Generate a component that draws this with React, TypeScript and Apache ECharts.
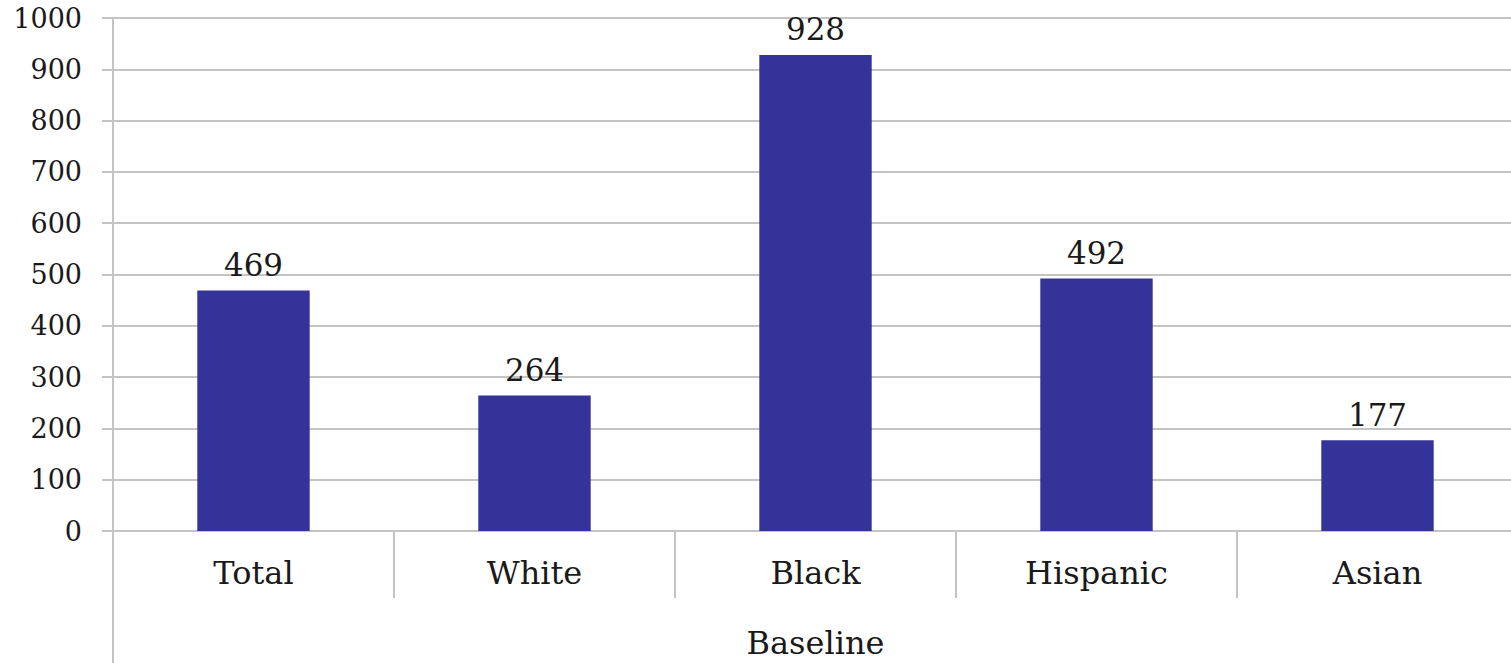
import React, { useEffect, useRef } from "react";
import * as echarts from "echarts";

const categories = ["Total", "White", "Black", "Hispanic", "Asian"];
const values = [469, 264, 928, 492, 177];
const axisName = "Baseline";
const yMin = 0;
const yMax = 1000;
const yInterval = 100;

const FONT = "'DejaVu Serif', 'Liberation Serif', serif";
const GRID_COLOR = "#c4c4c4";

export default function App() {
  const ref = useRef<HTMLDivElement>(null);
  useEffect(() => {
    if (!ref.current) return;
    const chart = echarts.init(ref.current, null, { renderer: "svg" });
    chart.setOption({
      animation: false,
      backgroundColor: "#ffffff",
      grid: {
        left: 113,
        top: 18,
        bottom: 132,
        width: 1405,
        containLabel: false,
        outerBoundsMode: "none",
      },
      xAxis: {
        type: "category",
        data: categories,
        name: axisName,
        nameLocation: "middle",
        nameGap: 96,
        nameTextStyle: { fontFamily: FONT, fontSize: 32, color: "#1a1a1a" },
        axisLine: { show: true, lineStyle: { color: GRID_COLOR, width: 2 } },
        axisTick: { show: true, length: 67, lineStyle: { color: GRID_COLOR, width: 2 } },
        axisLabel: { fontFamily: FONT, fontSize: 32, color: "#1a1a1a", margin: 26 },
      },
      yAxis: {
        type: "value",
        min: yMin,
        max: yMax,
        interval: yInterval,
        axisLine: { show: true, lineStyle: { color: GRID_COLOR, width: 2 } },
        axisTick: { show: true, length: 11, lineStyle: { color: GRID_COLOR, width: 2 } },
        axisLabel: {
          fontFamily: FONT,
          fontSize: 27,
          color: "#1a1a1a",
          margin: 31,
          formatter: (v: number) => String(v),
        },
        splitLine: { show: true, lineStyle: { color: GRID_COLOR, width: 2 } },
      },
      graphic: [
        {
          type: "line",
          shape: { x1: 113, y1: 531, x2: 113, y2: 663 },
          style: { stroke: GRID_COLOR, lineWidth: 2 },
          z: 10,
        },
      ],
      series: [
        {
          type: "bar",
          data: values,
          barWidth: "40%",
          itemStyle: { color: "#333399" },
          label: {
            show: true,
            position: "top",
            distance: 10,
            fontFamily: FONT,
            fontSize: 31,
            color: "#1a1a1a",
          },
        },
      ],
    });
    return () => chart.dispose();
  }, []);
  return (
    <div
      ref={ref}
      style={{ position: "fixed", left: 0, top: 0, width: 1511, height: 663, background: "#fff" }}
    />
  );
}
